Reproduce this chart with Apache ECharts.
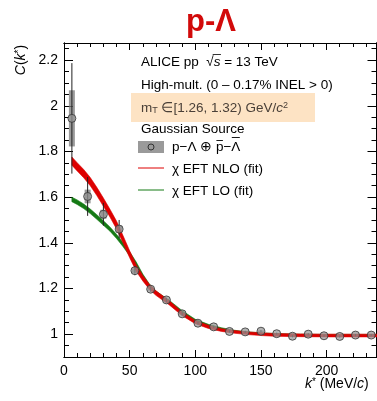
<!DOCTYPE html>
<html>
<head>
<meta charset="utf-8">
<script src="https://cdn.jsdelivr.net/npm/echarts@6/dist/echarts.min.js"></script>
<style>
html,body{margin:0;padding:0;background:#fff;}
#c{width:377px;height:401px;}
</style>
</head>
<body>
<div id="c"></div>
<script>
// ---- data ----
var dataK = [6, 18, 30, 42, 54, 66, 78, 90, 102, 114, 126, 138, 150, 162, 174, 186, 198, 210, 222, 234];
var dataC = [1.945, 1.603, 1.525, 1.460, 1.278, 1.197, 1.150, 1.089, 1.048, 1.032, 1.012, 1.010, 1.013, 1.002, 0.991, 1.000, 0.993, 0.990, 0.996, 0.996];
var statErr = [0.242, 0.085, 0.05, 0.04, 0.02, 0.012, 0.01, 0.008, 0.006, 0.005, 0.005, 0.005, 0.005, 0.005, 0.005, 0.005, 0.005, 0.005, 0.005, 0.005];
var sysErr = [0.123, 0.03, 0.02, 0.015, 0.01, 0.006, 0.005, 0.004, 0.003, 0.003, 0.003, 0.003, 0.003, 0.003, 0.003, 0.003, 0.003, 0.003, 0.003, 0.003];

var curveK = [6, 10, 15, 20, 25, 30, 35, 40, 45, 50, 55, 60, 65, 70, 80, 90, 100, 110, 120, 130, 140, 150, 160, 180, 200, 220, 240];
var nloLow  = [1.740, 1.715, 1.685, 1.650, 1.607, 1.560, 1.513, 1.461, 1.399, 1.335, 1.276, 1.233, 1.197, 1.170, 1.129, 1.081, 1.046, 1.025, 1.012, 1.004, 0.998, 0.994, 0.991, 0.989, 0.988, 0.988, 0.988];
var nloHigh = [1.776, 1.751, 1.721, 1.686, 1.643, 1.596, 1.547, 1.495, 1.431, 1.365, 1.304, 1.257, 1.219, 1.190, 1.147, 1.097, 1.060, 1.039, 1.024, 1.016, 1.010, 1.006, 1.003, 1.001, 1.000, 1.000, 1.000];
var loLow   = [1.580, 1.568, 1.550, 1.528, 1.503, 1.477, 1.451, 1.419, 1.383, 1.343, 1.300, 1.247, 1.204, 1.175, 1.137, 1.091, 1.055, 1.035, 1.020, 1.009, 1.002, 0.998, 0.995, 0.992, 0.991, 0.991, 0.991];
var loHigh  = [1.600, 1.588, 1.570, 1.548, 1.523, 1.497, 1.469, 1.437, 1.401, 1.361, 1.316, 1.263, 1.220, 1.189, 1.149, 1.103, 1.065, 1.043, 1.028, 1.017, 1.010, 1.006, 1.003, 1.000, 0.999, 0.999, 0.999];

var xMajor = [0, 50, 100, 150, 200];
var xMinor = [10, 20, 30, 40, 60, 70, 80, 90, 110, 120, 130, 140, 160, 170, 180, 190, 210, 220, 230];
var yMajor = [1, 1.2, 1.4, 1.6, 1.8, 2, 2.2];
var yMinor = [0.9, 0.95, 1.05, 1.1, 1.15, 1.25, 1.3, 1.35, 1.45, 1.5, 1.55, 1.65, 1.7, 1.75, 1.85, 1.9, 1.95, 2.05, 2.1, 2.15, 2.25];

var FONT = '"Liberation Sans", Arial, Helvetica, sans-serif';
var RED = '#dd0000';
var GREEN = '#157a15';
var TXT = '13.5px ' + FONT;

var mctx = document.createElement('canvas').getContext('2d');
function tw(s, f) { mctx.font = f || TXT; return mctx.measureText(s).width; }

var chart = echarts.init(document.getElementById('c'), null, {renderer: 'canvas'});

function mkX(pos, values, len, labels) {
  return {
    type: 'value', min: 0, max: 238, position: pos, gridIndex: 0,
    axisLine: {show: true, onZero: false, lineStyle: {color: '#000', width: 1}},
    axisTick: {show: true, inside: true, length: len, customValues: values, lineStyle: {color: '#000', width: 1}},
    axisLabel: {show: labels, customValues: values, margin: 7, fontSize: 14, color: '#000', fontFamily: FONT},
    splitLine: {show: false}
  };
}
function mkY(pos, values, len, labels) {
  return {
    type: 'value', min: 0.9, max: 2.275, position: pos, gridIndex: 0,
    axisLine: {show: true, onZero: false, lineStyle: {color: '#000', width: 1}},
    axisTick: {show: true, inside: true, length: len, customValues: values, lineStyle: {color: '#000', width: 1}},
    axisLabel: {show: labels, customValues: values, margin: 6, fontSize: 14, color: '#000', fontFamily: FONT,
      formatter: function (v) { return String(Math.round(v * 10) / 10); }},
    splitLine: {show: false}
  };
}

function bandRenderer(xs, lo, hi, color) {
  return function (params, api) {
    if (params.dataIndex !== 0) return null;
    var pts = [];
    for (var i = 0; i < xs.length; i++) pts.push(api.coord([xs[i], hi[i]]));
    for (var j = xs.length - 1; j >= 0; j--) pts.push(api.coord([xs[j], lo[j]]));
    return {type: 'polygon', shape: {points: pts, smooth: 0}, style: {fill: color, stroke: color, lineWidth: 0.6}};
  };
}

// legend text pieces with overlines (anti-particles)
var legX = 172;
var legPre = 'p−Λ ⊕ ';
var xPbar = legX + tw(legPre);
var wP = tw('p');
var xLbar = xPbar + wP + tw('−');
var wL = tw('Λ');
// sqrt s overline
var sqX = 141 + tw('ALICE pp  √');
var sW = tw('s', 'italic ' + TXT);

var option = {
  animation: false,
  backgroundColor: '#fff',
  grid: {left: 64, top: 43, right: 0.5, bottom: 44, containLabel: false},
  xAxis: [mkX('bottom', xMajor, 7, true), mkX('bottom', xMinor, 4, false), mkX('top', xMajor, 7, false), mkX('top', xMinor, 4, false)],
  yAxis: [mkY('left', yMajor, 9, true), mkY('left', yMinor, 5, false), mkY('right', yMajor, 9, false), mkY('right', yMinor, 5, false)],
  series: [
    {
      type: 'custom', name: 'sys', z: 2, clip: true,
      data: dataK.map(function (k, i) { return [k, dataC[i], sysErr[i]]; }),
      renderItem: function (params, api) {
        var x = api.value(0), y = api.value(1), e = api.value(2);
        var p1 = api.coord([x, y + e]), p2 = api.coord([x, y - e]);
        return {type: 'rect', shape: {x: p1[0] - 3, y: p1[1], width: 6, height: p2[1] - p1[1]}, style: {fill: 'rgba(120,120,120,0.75)'}};
      }
    },
    {
      type: 'custom', name: 'LO', z: 3, clip: true,
      data: curveK.map(function (k, i) { return [k, loLow[i], loHigh[i]]; }),
      renderItem: bandRenderer(curveK, loLow, loHigh, GREEN)
    },
    {
      type: 'custom', name: 'NLO', z: 4, clip: true,
      data: curveK.map(function (k, i) { return [k, nloLow[i], nloHigh[i]]; }),
      renderItem: bandRenderer(curveK, nloLow, nloHigh, RED)
    },
    {
      type: 'custom', name: 'stat', z: 5, clip: true,
      data: dataK.map(function (k, i) { return [k, dataC[i], statErr[i]]; }),
      renderItem: function (params, api) {
        var x = api.value(0), y = api.value(1), e = api.value(2);
        var p1 = api.coord([x, y + e]), p2 = api.coord([x, y - e]);
        return {type: 'line', shape: {x1: p1[0], y1: p1[1], x2: p2[0], y2: p2[1]}, style: {stroke: '#222', lineWidth: 1}};
      }
    },
    {
      type: 'scatter', name: 'data', z: 6,
      data: dataK.map(function (k, i) { return [k, dataC[i]]; }),
      symbol: 'circle', symbolSize: 8,
      itemStyle: {color: 'rgba(150,150,150,0.9)', borderColor: '#333', borderWidth: 1}
    }
  ],
  graphic: [
    // title
    {type: 'text', x: 211, y: 22, style: {text: 'p-Λ', font: 'bold 31px ' + FONT, fill: '#d20a0a', align: 'center', verticalAlign: 'middle'}},
    // axis titles
    {type: 'text', x: 21, y: 60, rotation: Math.PI / 2,
      style: {text: '{i|C}{n|(}{i|k}{s|*}{n|)}', align: 'center', verticalAlign: 'middle',
        rich: {i: {font: 'italic 14px ' + FONT, fill: '#000'}, n: {font: '14px ' + FONT, fill: '#000'}, s: {font: '10px ' + FONT, fill: '#000', verticalAlign: 'top'}}}},
    {type: 'text', x: 305, y: 384,
      style: {text: '{i|k}{s|*}{n| (MeV/}{i|c}{n|)}', align: 'left', verticalAlign: 'middle',
        rich: {i: {font: 'italic 14px ' + FONT, fill: '#000'}, n: {font: '14px ' + FONT, fill: '#000'}, s: {font: '10px ' + FONT, fill: '#000', verticalAlign: 'top'}}}},
    // highlighted box
    {type: 'rect', shape: {x: 131, y: 93, width: 184, height: 29}, style: {fill: '#fde3c4'}, z: 10},
    // text block
    {type: 'text', x: 141, y: 62, z: 11,
      style: {text: '{n|ALICE pp  √}{i|s}{n| = 13 TeV}', verticalAlign: 'middle',
        rich: {n: {font: TXT, fill: '#000'}, i: {font: 'italic ' + TXT, fill: '#000'}}}},
    {type: 'line', z: 11, shape: {x1: sqX - 1, y1: 54.5, x2: sqX + sW + 0.5, y2: 54.5}, style: {stroke: '#000', lineWidth: 0.8}},
    {type: 'text', x: 141, y: 85, z: 11,
      style: {text: 'High-mult. (0 – 0.17% INEL > 0)', verticalAlign: 'middle', font: TXT, fill: '#000'}},
    {type: 'text', x: 141, y: 108, z: 11,
      style: {text: '{n|m}{b|T}{n| ∈[1.26, 1.32) GeV/}{i|c}{p|2}', verticalAlign: 'middle',
        rich: {n: {font: TXT, fill: '#4a4038'}, i: {font: 'italic ' + TXT, fill: '#4a4038'},
          b: {font: '9px ' + FONT, fill: '#4a4038', verticalAlign: 'bottom'}, p: {font: '9px ' + FONT, fill: '#4a4038', verticalAlign: 'top'}}}},
    {type: 'text', x: 141, y: 129, z: 11,
      style: {text: 'Gaussian Source', verticalAlign: 'middle', font: TXT, fill: '#000'}},
    // legend
    {type: 'rect', shape: {x: 138, y: 141, width: 26, height: 12}, style: {fill: '#9a9a9a'}, z: 11},
    {type: 'circle', shape: {cx: 151, cy: 147, r: 3}, style: {fill: '#9a9a9a', stroke: '#333', lineWidth: 1}, z: 12},
    {type: 'text', x: legX, y: 147, z: 11,
      style: {text: 'p−Λ ⊕ p−Λ', verticalAlign: 'middle', font: TXT, fill: '#000'}},
    {type: 'line', z: 11, shape: {x1: xPbar + 0.5, y1: 140.5, x2: xPbar + wP - 0.5, y2: 140.5}, style: {stroke: '#000', lineWidth: 0.9}},
    {type: 'line', z: 11, shape: {x1: xLbar + 0.5, y1: 137.5, x2: xLbar + wL - 0.5, y2: 137.5}, style: {stroke: '#000', lineWidth: 0.9}},
    {type: 'line', shape: {x1: 138, y1: 168, x2: 164, y2: 168}, style: {stroke: RED, lineWidth: 1}, z: 11},
    {type: 'text', x: legX, y: 169, z: 11,
      style: {text: 'χ EFT NLO (fit)', verticalAlign: 'middle', font: TXT, fill: '#000'}},
    {type: 'line', shape: {x1: 138, y1: 190, x2: 164, y2: 190}, style: {stroke: GREEN, lineWidth: 1}, z: 11},
    {type: 'text', x: legX, y: 191, z: 11,
      style: {text: 'χ EFT LO (fit)', verticalAlign: 'middle', font: TXT, fill: '#000'}}
  ]
};
chart.setOption(option);
</script>
</body>
</html>
